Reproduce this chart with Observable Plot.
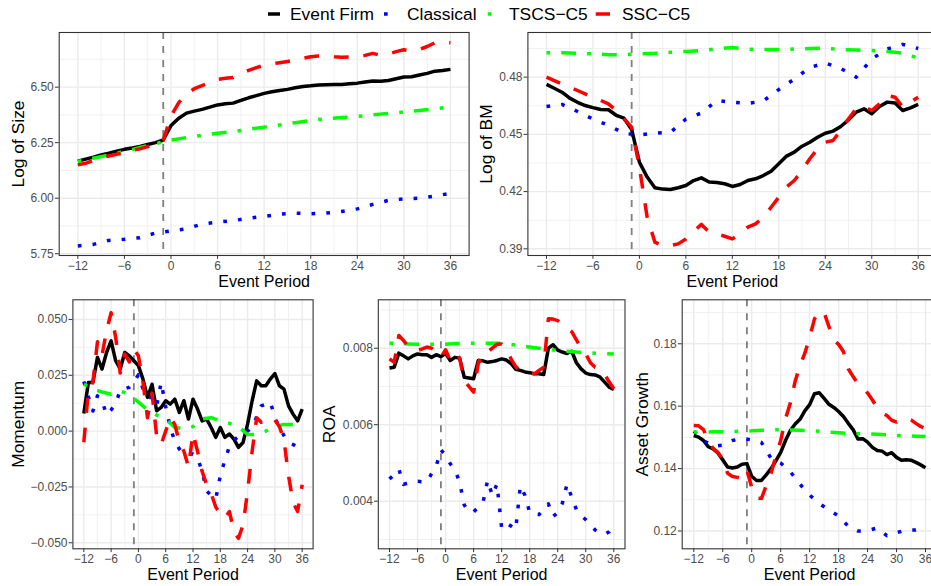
<!DOCTYPE html>
<html><head><meta charset="utf-8">
<script src="https://cdn.jsdelivr.net/npm/d3@7"></script>
<script src="https://cdn.jsdelivr.net/npm/@observablehq/plot@0.6"></script>
<style>
html,body{margin:0;padding:0;background:#fff;}
#fig{position:relative;width:931px;height:586px;overflow:hidden;background:#fff;font-family:"Liberation Sans",Arial,Helvetica,sans-serif;}
#fig > svg{position:absolute;}
</style></head><body><div id="fig"></div>
<script>
// ---------- data ----------
const seriesNames = ["Event Firm", "Classical", "TSCS\u2212C5", "SSC\u2212C5"];
const periodsMonthly = [-12,-11,-10,-9,-8,-7,-6,-5,-4,-3,-2,-1,0,1,2,3,4,5,6,7,8,9,10,11,12,13,14,15,16,17,18,19,20,21,22,23,24,25,26,27,28,29,30,31,32,33,34,35,36];
const periodsBimonthly = [-12,-10,-8,-6,-4,-2,0,2,4,6,8,10,12,14,16,18,20,22,24,26,28,30,32,34,36];
const xTicks = [-12,-6,0,6,12,18,24,30,36];
const xMinorTicks = [-9,-3,3,9,15,21,27,33];
const eventLine = [-1];

// Log of Size
const sizeEventFirm = [6.167,6.176,6.185,6.195,6.203,6.212,6.220,6.226,6.233,6.242,6.250,6.262,
  6.327,6.360,6.383,6.392,6.400,6.410,6.420,6.425,6.428,6.440,
  6.452,6.462,6.472,6.479,6.485,6.490,6.497,6.503,6.506,6.510,
  6.511,6.512,6.512,6.515,6.518,6.523,6.528,6.527,6.530,6.538,
  6.546,6.547,6.555,6.562,6.572,6.575,6.580];
const sizeSSC = [6.150,6.157,6.170,6.183,6.190,6.198,6.205,6.215,6.222,6.232,6.245,6.260,
  6.370,6.430,6.470,6.493,6.507,6.520,6.535,6.540,6.543,6.560,
  6.575,6.588,6.598,6.605,6.610,6.615,6.622,6.630,6.637,6.640,
  6.640,6.637,6.635,6.636,6.637,6.643,6.652,6.643,6.648,6.660,
  6.668,6.662,6.670,6.683,6.700,6.702,6.700];
const sizeTSCS = [6.165,6.180,6.195,6.210,6.228,6.245,6.262,6.273,6.283,6.292,6.300,6.310,6.320,6.330,6.340,6.350,6.358,6.363,6.368,6.375,6.382,6.388,6.395,6.402,6.412];
const sizeClassical = [5.785,5.792,5.810,5.815,5.822,5.843,5.853,5.862,5.884,5.892,5.899,5.910,5.918,5.928,5.933,5.930,5.933,5.940,5.952,5.972,5.990,5.997,6.000,6.010,6.022];
const sizeTicks = [5.75,6.00,6.25,6.50];
const sizeMinorTicks = [5.875,6.125,6.375,6.625];

// Log of BM
const bmEventFirm = [.4762,.4742,.4721,.4690,.4668,.4651,.4640,.4630,.4629,.4600,.4585,.4525,
  .4354,.4276,.4220,.4213,.4211,.4220,.4232,.4258,.4272,.4250,
  .4248,.4241,.4227,.4237,.4258,.4267,.4284,.4307,.4346,.4386,
  .4407,.4438,.4459,.4485,.4506,.4517,.4541,.4576,.4617,.4634,
  .4608,.4646,.4669,.4664,.4625,.4639,.4657];
const bmSSC = [.4800,.4782,.4765,.4748,.4730,.4712,.4695,.4678,.4660,.4625,.4582,.4538,
  .4328,.4066,.3935,.3917,.3917,.3926,.3952,.3991,.4028,.3987,
  .3979,.3966,.3952,.3979,.4014,.4031,.4066,.4118,.4171,.4224,
  .4258,.4311,.4372,.4424,.4459,.4468,.4520,.4582,.4634,.4646,
  .4625,.4660,.4704,.4695,.4643,.4669,.4695];
const bmTSCS = [.4928,.4928,.4925,.4922,.4918,.4917,.4922,.4925,.4930,.4935,.4940,.4948,.4955,.4947,.4945,.4945,.4947,.4950,.4952,.4945,.4942,.4940,.4935,.4925,.4900];
const bmClassical = [.4646,.4657,.4620,.4580,.4548,.4505,.4497,.4507,.4510,.4580,.4612,.4678,.4668,.4662,.4675,.4735,.4790,.4850,.4875,.4845,.4800,.4895,.4948,.4972,.4950];
const bmTicks = [0.39,0.42,0.45,0.48];
const bmMinorTicks = [0.405,0.435,0.465,0.495];

// Momentum
const momEventFirm = [.0079,.0218,.0218,.0330,.0278,.0352,.0404,.0315,.0278,.0352,.0337,.0315,
  .0293,.0233,.0151,.0210,.0091,.0106,.0136,.0121,.0143,.0084,
  .0136,.0054,.0143,.0099,.0046,.0054,.0016,-.0028,.0016,-.0028,
  -.0013,-.0036,-.0073,-.0051,.0031,.0136,.0225,.0203,.0203,.0233,
  .0258,.0203,.0188,.0113,.0076,.0046,.0099];
const momSSC = [-.0050,.0180,.0220,.0400,.0340,.0450,.0530,.0420,.0260,.0345,.0310,.0367,
  .0337,.0220,.0060,.0170,-.0020,-.0060,.0000,.0060,.0030,-.0050,
  -.0090,-.0160,-.0010,-.0090,-.0180,-.0240,-.0280,-.0340,-.0370,-.0390,
  -.0360,-.0450,-.0480,-.0420,-.0270,-.0090,.0060,.0040,.0040,.0060,
  .0050,.0020,-.0040,-.0200,-.0320,-.0360,-.0240];
const momTSCS = [.0210,.0190,.0175,.0165,.0180,.0165,.0130,.0095,.0072,.0054,.0016,.0010,.0020,.0055,.0060,.0045,.0035,.0020,-.0015,-.0015,.0000,.0020,.0030,.0030,.0046];
const momClassical = [.0222,.0154,.0090,.0158,.0136,.0073,.0095,.0121,.0184,.0190,.0196,.0220,
  .0252,.0190,.0151,.0151,.0113,.0218,.0110,.0016,-.0046,-.0080,
  -.0103,-.0103,-.0103,-.0120,-.0180,-.0267,-.0290,-.0304,-.0200,-.0130,
  -.0070,-.0040,-.0024,-.0010,.0000,.0020,.0064,.0113,.0120,.0131,
  .0060,.0016,-.0020,-.0050,-.0060,-.0073,-.0070];
const momTicks = [-0.050,-0.025,0,0.025,0.050];
const momMinorTicks = [-0.0375,-0.0125,0.0125,0.0375];

// ROA
const roaEventFirm = [.00748,.00750,.00787,.00780,.00772,.00780,.00785,.00783,.00783,.00776,.00783,.00778,
  .00786,.00768,.00776,.00774,.00724,.00722,.00720,.00768,.00767,.00763,
  .00765,.00768,.00772,.00769,.00760,.00745,.00742,.00738,.00736,.00733,
  .00733,.00731,.00800,.00809,.00795,.00790,.00786,.00792,.00762,.00746,
  .00735,.00731,.00730,.00725,.00712,.00698,.00692];
const roaSSC = [.00772,.00763,.00833,.00820,.00805,.00797,.00794,.00798,.00803,.00800,.00785,.00776,
  .00796,.00768,.00785,.00775,.00715,.00700,.00685,.00760,.00790,.00790,
  .00800,.00810,.00811,.00800,.00772,.00752,.00742,.00738,.00735,.00733,
  .00742,.00750,.00877,.00876,.00872,.00862,.00852,.00843,.00822,.00800,
  .00785,.00762,.00750,.00746,.00732,.00712,.00694];
const roaTSCS = [.00813,.00812,.00811,.00810,.00810,.00810,.00810,.00812,.00813,.00813,.00813,.00813,.00813,.00810,.00806,.00803,.00800,.00797,.00794,.00792,.00790,.00789,.00787,.00786,.00785];
const roaClassical = [.00458,.00470,.00484,.00444,.00448,.00452,.00452,.00451,.00451,.00472,.00492,.00534,
  .00520,.00498,.00482,.00450,.00390,.00372,.00372,.00385,.00396,.00455,
  .00415,.00445,.00330,.00343,.00335,.00326,.00440,.00415,.00370,.00366,
  .00365,.00380,.00393,.00360,.00370,.00395,.00445,.00410,.00378,.00362,
  .00352,.00340,.00325,.00318,.00313,.00320,.00335];
const roaTicks = [0.004,0.006,0.008];
const roaMinorTicks = [0.003,0.005,0.007,0.009];

// Asset Growth
const agEventFirm = [.1506,.1501,.1490,.1470,.1463,.1450,.1428,.1405,.1402,.1405,.1414,.1416,
  .1375,.1362,.1362,.1380,.1400,.1425,.1452,.1490,.1522,.1543,
  .1558,.1585,.1605,.1640,.1643,.1625,.1606,.1596,.1583,.1567,
  .1545,.1525,.1495,.1496,.1485,.1468,.1458,.1456,.1445,.1451,
  .1436,.1427,.1428,.1427,.1420,.1412,.1403];
const agSSC = [.1538,.1537,.1525,.1490,.1465,.1452,.1430,.1385,.1375,.1372,.1368,.1395,
  .1340,.1306,.1304,.1345,.1385,.1440,.1490,.1560,.1610,.1680,
  .1730,.1770,.1820,.1880,.1904,.1900,.1855,.1812,.1798,.1775,
  .1720,.1695,.1672,.1660,.1642,.1620,.1595,.1578,.1570,.1555,
  .1549,.1557,.1560,.1556,.1545,.1535,.1528];
const agTSCS = [.1517,.1517,.1518,.1518,.1519,.1520,.1521,.1523,.1524,.1525,.1524,.1523,.1522,.1520,.1517,.1515,.1513,.1512,.1511,.1510,.1508,.1506,.1505,.1504,.1503];
const agClassical = [.1520,.1490,.1472,.1475,.1490,.1497,.1492,.1484,.1433,.1418,.1390,.1350,.1315,.1288,.1268,.1248,.1215,.1200,.1201,.1210,.1185,.1195,.1203,.1203,.1210];
const agTicks = [0.12,0.14,0.16,0.18];
const agMinorTicks = [0.13,0.15,0.17,0.19];

// ---------- styles ----------
const FONT = '"Liberation Sans", Arial, Helvetica, sans-serif';
const seriesColors = ["#000000", "#0000ff", "#00ff00", "#ff0000"];
const seriesDash = [null, "3.7 11.1", "3.7 11.1 14.8 11.1", "14.8 14.8"];
const LW = 3.5;

function rows(periods, values) {
  return periods.map((p, i) => ({period: p, value: values[i]}));
}

const panels = [
  {label: "Log of Size", ticks: sizeTicks, minor: sizeMinorTicks, fmt: ".2f",
   domain: [5.742, 6.746],
   series: [[periodsMonthly, sizeEventFirm], [periodsBimonthly, sizeClassical], [periodsBimonthly, sizeTSCS], [periodsMonthly, sizeSSC]],
   svg: {left: 0, top: 25, width: 470, height: 265}, frame: {l: 58.7, r: 468.6, t: 32, b: 255}, titleX: 17.5},
  {label: "Log of BM", ticks: bmTicks, minor: bmMinorTicks, fmt: ".2f",
   domain: [0.3865, 0.5034],
   series: [[periodsMonthly, bmEventFirm], [periodsBimonthly, bmClassical], [periodsBimonthly, bmTSCS], [periodsMonthly, bmSSC]],
   svg: {left: 470, top: 25, width: 470, height: 265}, frame: {l: 527.4, r: 936.3, t: 32, b: 255}, titleX: 486},
  {label: "Momentum", ticks: momTicks, minor: momMinorTicks, fmt: ".3f",
   domain: [-0.0527, 0.0588],
   series: [[periodsMonthly, momEventFirm], [periodsMonthly, momClassical], [periodsBimonthly, momTSCS], [periodsMonthly, momSSC]],
   svg: {left: 0, top: 292, width: 320, height: 294}, frame: {l: 72.4, r: 312.6, t: 299.3, b: 548.3}, titleX: 17.5},
  {label: "ROA", ticks: roaTicks, minor: roaMinorTicks, fmt: ".3f",
   domain: [0.002756, 0.009265],
   series: [[periodsMonthly, roaEventFirm], [periodsMonthly, roaClassical], [periodsBimonthly, roaTSCS], [periodsMonthly, roaSSC]],
   svg: {left: 320, top: 292, width: 310, height: 294}, frame: {l: 377.8, r: 624.5, t: 299.3, b: 548.3}, titleX: 329},
  {label: "Asset Growth", ticks: agTicks, minor: agMinorTicks, fmt: ".2f",
   domain: [0.1143, 0.1941],
   series: [[periodsMonthly, agEventFirm], [periodsBimonthly, agClassical], [periodsBimonthly, agTSCS], [periodsMonthly, agSSC]],
   svg: {left: 630, top: 292, width: 310, height: 294}, frame: {l: 681.7, r: 936.6, t: 299.3, b: 548.3}, titleX: 641.7}
];

const fig = document.getElementById("fig");

for (const p of panels) {
  const s = p.svg, f = p.frame;
  const lineMarks = p.series.map(([per, vals], i) =>
    Plot.line(rows(per, vals), {
      x: "period", y: "value", stroke: seriesColors[i], strokeWidth: LW,
      strokeDasharray: seriesDash[i], strokeLinecap: "butt", strokeLinejoin: "round"
    }));
  const chart = Plot.plot({
    width: s.width, height: s.height,
    marginLeft: f.l - s.left, marginRight: s.left + s.width - f.r,
    marginTop: f.t - s.top, marginBottom: s.top + s.height - f.b,
    style: {fontFamily: FONT, background: "transparent", color: "#4d4d4d"},
    x: {domain: [-14.4, 38.4]},
    y: {domain: p.domain},
    marks: [
      Plot.gridX(xMinorTicks, {stroke: "#ebebeb", strokeOpacity: 1, strokeWidth: 0.7}),
      Plot.gridY(p.minor, {stroke: "#ebebeb", strokeOpacity: 1, strokeWidth: 0.7}),
      Plot.gridX(xTicks, {stroke: "#ebebeb", strokeOpacity: 1, strokeWidth: 1.4}),
      Plot.gridY(p.ticks, {stroke: "#ebebeb", strokeOpacity: 1, strokeWidth: 1.4}),
      Plot.ruleX(eventLine, {stroke: "#7f7f7f", strokeWidth: 1.8, strokeDasharray: "7 7"}),
      ...lineMarks,
      Plot.frame({stroke: "#333333", strokeWidth: 1.1}),
      Plot.axisX(xTicks, {tickSize: 3.8, tickPadding: 2, tickFormat: d3.format("d"), fontSize: 12,
        color: "#4d4d4d", stroke: "#333333", label: null}),
      Plot.axisY(p.ticks, {tickSize: 3.8, tickPadding: 1.6, tickFormat: d3.format(p.fmt), fontSize: 12,
        color: "#4d4d4d", stroke: "#333333", label: null}),
      Plot.text([p.label], {frameAnchor: "left", dx: p.titleX - f.l, rotate: -90, fontSize: 17.4,
        fill: "#000000", lineAnchor: "middle", textAnchor: "middle"}),
      Plot.text(["Event Period"], {frameAnchor: "bottom", dy: 26, fontSize: 16,
        fill: "#000000", lineAnchor: "middle", textAnchor: "middle"})
    ]
  });
  chart.style.left = s.left + "px";
  chart.style.top = s.top + "px";
  chart.style.maxWidth = "none";
  fig.appendChild(chart);
}

// ---------- legend ----------
const legendKeys = [{x: 268, w: 12}, {x: 384, w: 14.3}, {x: 487.7, w: 14.3}, {x: 595.7, w: 14.3}];
const legendText = [290, 407, 509, 622];
const leg = d3.create("svg").attr("width", 931).attr("height", 26)
  .style("left", "0px").style("top", "0px").style("position", "absolute");
seriesNames.forEach((name, i) => {
  leg.append("line")
    .attr("x1", legendKeys[i].x).attr("x2", legendKeys[i].x + legendKeys[i].w)
    .attr("y1", 14).attr("y2", 14)
    .attr("stroke", seriesColors[i]).attr("stroke-width", LW)
    .attr("stroke-dasharray", seriesDash[i]).attr("stroke-linecap", "butt");
  leg.append("text").attr("x", legendText[i]).attr("y", 20.2)
    .attr("font-family", FONT).attr("font-size", 17.4).attr("fill", "#000")
    .text(name);
});
fig.appendChild(leg.node());
</script></body></html>
